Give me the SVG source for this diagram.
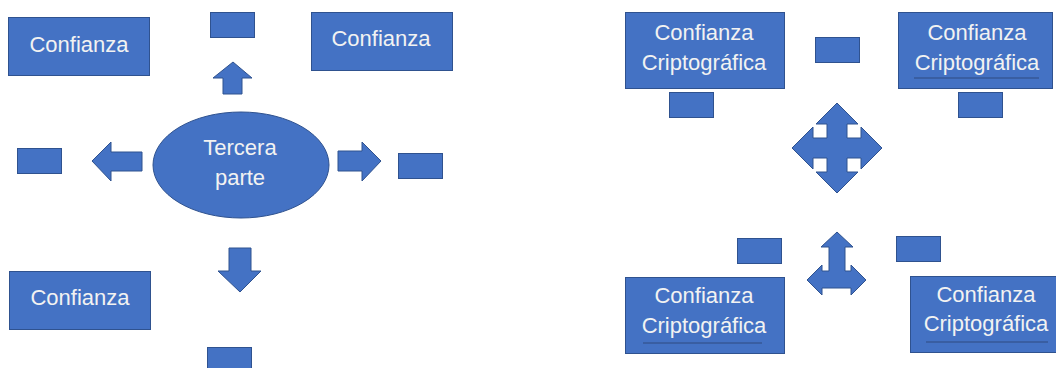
<svg xmlns="http://www.w3.org/2000/svg" width="1056" height="368" viewBox="0 0 1056 368">
<style>
.s{fill:#4472C4;stroke:#2F528F;stroke-width:1}
.t{font-family:"Liberation Sans",Arial,sans-serif;font-size:22px;fill:#F2F2F2;text-anchor:middle}
.u{stroke:#2F4A80;stroke-width:1.2;fill:none}
</style>
<rect width="1056" height="368" fill="#FFFFFF"/>
<g id="box1"><rect class="s" x="8.5" y="17.5" width="141" height="58"/><text class="t" x="79" y="52">Confianza</text></g>
<g id="box2"><rect class="s" x="311.5" y="12.5" width="141" height="58"/><text class="t" x="381" y="46">Confianza</text></g>
<g id="box3"><rect class="s" x="9.5" y="271.5" width="141" height="58"/><text class="t" x="80" y="305">Confianza</text></g>
<g id="ellipse"><ellipse class="s" cx="241" cy="165" rx="88" ry="53"/><text class="t" x="240" y="155">Tercera</text><text class="t" x="240" y="185">parte</text></g>
<g id="small1"><rect class="s" x="210.5" y="12.5" width="44" height="25"/></g>
<g id="small2"><rect class="s" x="17.5" y="148.5" width="44" height="25"/></g>
<g id="small3"><rect class="s" x="398.5" y="153.5" width="44" height="25"/></g>
<g id="small4"><rect class="s" x="207.5" y="347.5" width="44" height="25"/></g>
<g id="cc1"><rect class="s" x="625.5" y="12.5" width="159" height="76"/><text class="t" x="704" y="40">Confianza</text><text class="t" x="704" y="70">Criptográfica</text></g>
<g id="cc2"><rect class="s" x="898.5" y="12.5" width="154" height="76"/><text class="t" x="977" y="40">Confianza</text><text class="t" x="977" y="70">Criptográfica</text><line class="u" x1="914" y1="78" x2="1039" y2="78"/></g>
<g id="cc3"><rect class="s" x="625.5" y="277.5" width="159" height="76"/><text class="t" x="704" y="303">Confianza</text><text class="t" x="704" y="333">Criptográfica</text><line class="u" x1="643" y1="343" x2="762" y2="343"/></g>
<g id="cc4"><rect class="s" x="910.5" y="276.5" width="150" height="76"/><text class="t" x="986" y="302">Confianza</text><text class="t" x="986" y="331">Criptográfica</text><line class="u" x1="926" y1="342" x2="1048" y2="342"/></g>
<g id="small5"><rect class="s" x="815.5" y="37.5" width="44" height="25"/></g>
<g id="small6"><rect class="s" x="669.5" y="92.5" width="44" height="25"/></g>
<g id="small7"><rect class="s" x="958.5" y="92.5" width="44" height="25"/></g>
<g id="small8"><rect class="s" x="737.5" y="238.5" width="44" height="25"/></g>
<g id="small9"><rect class="s" x="896.5" y="236.5" width="44" height="25"/></g>
<g id="connectors">
<polygon class="s" points="233,62 252,78 242,78 242,94 223,94 223,78 213,78"/>
<polygon class="s" points="92,161 111,142 111,152 142,152 142,171 111,171 111,181"/>
<polygon class="s" points="381,161 362,142 362,151 338,151 338,171 362,171 362,181"/>
<polygon class="s" points="240,292 261,271 251,271 251,248 229,248 229,271 218,271"/>
<polygon class="s" points="837,103 858,124 847,124 847,138 861,138 861,127 882,148 861,169 861,158 847,158 847,172 858,172 837,193 816,172 827,172 827,158 813,158 813,169 792,148 813,127 813,138 827,138 827,124 816,124"/>
<polygon class="s" points="837,232 853,247 845,247 845,271 851,271 851,265 866,280 851,295 851,288 822,288 822,295 807,280 822,265 822,271 829,271 829,247 821,247"/>
</g>
</svg>
